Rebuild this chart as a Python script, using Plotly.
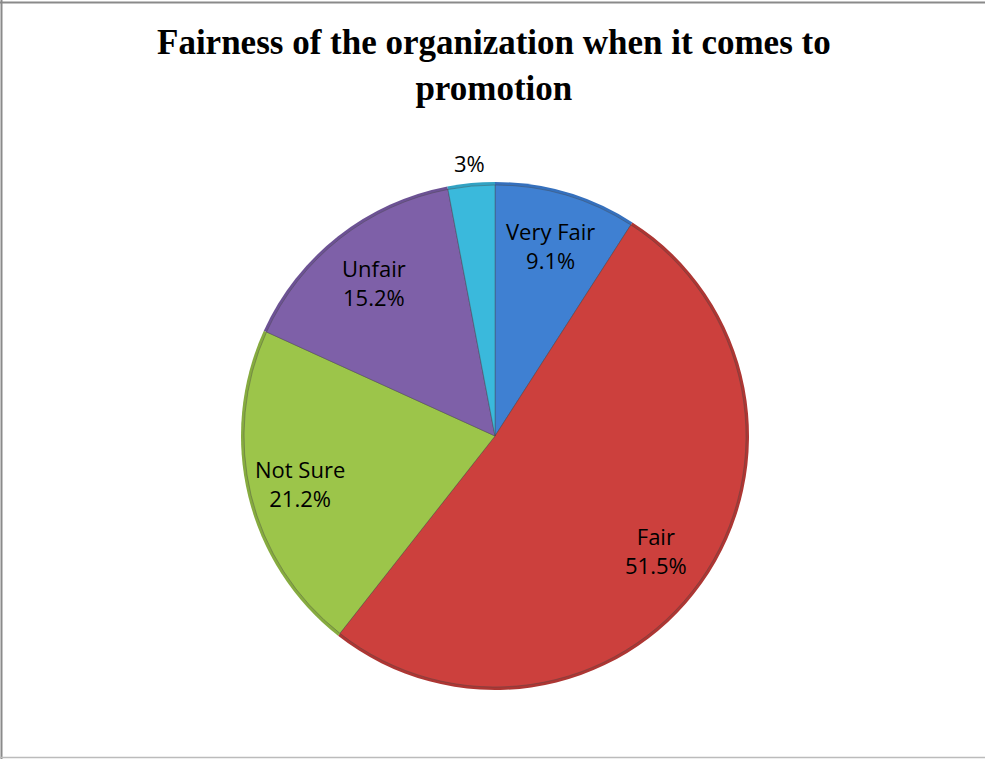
import math
import plotly.graph_objects as go

categories = ["Very Fair", "Fair", "Not Sure", "Unfair", ""]
values = [9.1, 51.5, 21.2, 15.2, 3.0]
colors = ["#3f80d2", "#cc403d", "#9cc54a", "#7e60a8", "#3ab9dc"]
rim_colors = ["#3570bd", "#ad3633", "#86ab3f", "#6c5294", "#31a2c3"]
label_texts = ["Very Fair<br>9.1%", "Fair<br>51.5%", "Not Sure<br>21.2%", "Unfair<br>15.2%", "3%"]
label_radius = [0.78, 0.78, 0.79, 0.77, 1.08]
title_text = "<b>Fairness of the organization when it comes to<br>promotion</b>"

W, H = 985, 759
cx, cy, r = 495, 436, 254
dom = dict(x=[(cx - r) / W, (cx + r) / W], y=[(H - cy - r) / H, (H - cy + r) / H])
inset = 3
dom_in = dict(x=[(cx - r + inset) / W, (cx + r - inset) / W],
              y=[(H - cy - r + inset) / H, (H - cy + r - inset) / H])

fig = go.Figure()
# darker rim (bevel-like edge) drawn from the same data
fig.add_trace(go.Pie(
    labels=categories, values=values, sort=False, direction="clockwise", rotation=0,
    marker=dict(colors=rim_colors, line=dict(width=0)),
    textinfo="none", showlegend=False, hoverinfo="skip", domain=dom,
))
fig.add_trace(go.Pie(
    labels=categories, values=values, sort=False, direction="clockwise", rotation=0,
    marker=dict(colors=colors, line=dict(color="rgba(70,70,70,0.5)", width=0.8)),
    textinfo="none", showlegend=False, hoverinfo="label+value",
    domain=dom_in,
))

annotations = []
total = sum(values)
cum = 0.0
for v, txt, rf in zip(values, label_texts, label_radius):
    mid = (cum + v / 2) / total * 2 * math.pi
    cum += v
    px = cx + rf * r * math.sin(mid)
    py = cy - rf * r * math.cos(mid)
    annotations.append(dict(
        x=px / W, y=1 - py / H, xref="paper", yref="paper", showarrow=False,
        text=txt, xanchor="center", yanchor="middle", align="center",
        font=dict(family="Open Sans, sans-serif", size=22, color="#000000"),
    ))

annotations.append(dict(
    x=494 / W, y=1 - 21 / H, xref="paper", yref="paper", showarrow=False,
    text=title_text, xanchor="center", yanchor="top", align="center",
    font=dict(family="Liberation Serif, Times New Roman, serif", size=35, color="#000000"),
))

fig.update_layout(
    width=W, height=H,
    margin=dict(l=0, r=0, t=0, b=0),
    paper_bgcolor="white",
    plot_bgcolor="white",
    annotations=annotations,
    shapes=[
        dict(type="line", xref="paper", yref="paper", x0=1.5 / W, x1=1.5 / W, y0=0, y1=1,
             line=dict(color="#8a8a8a", width=2)),
        dict(type="line", xref="paper", yref="paper", x0=0, x1=1, y0=1 - 2.5 / H, y1=1 - 2.5 / H,
             line=dict(color="#8a8a8a", width=2)),
        dict(type="line", xref="paper", yref="paper", x0=0, x1=1, y0=1.5 / H, y1=1.5 / H,
             line=dict(color="#bbbbbb", width=1.5)),
    ],
)

fig.write_html("out.html")
